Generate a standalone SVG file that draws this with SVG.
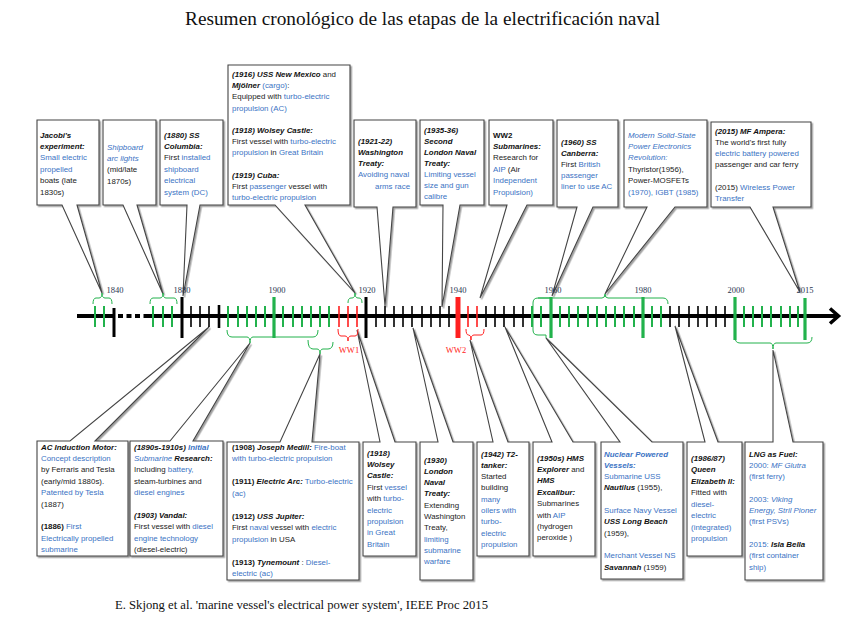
<svg xmlns="http://www.w3.org/2000/svg" width="848" height="636" viewBox="0 0 848 636">
<defs>
<filter id="sh" x="-10%" y="-10%" width="130%" height="130%">
<feDropShadow dx="1.5" dy="1.5" stdDeviation="0.7" flood-color="#888" flood-opacity="0.8"/>
</filter>
</defs>
<style>
.box{fill:#fff;stroke:#444;stroke-width:1.1;filter:url(#sh)}
.t{font-family:"Liberation Sans",Arial,sans-serif;font-size:7.9px;fill:#222}
.b{font-weight:bold;font-style:italic;fill:#111}
.y{font-weight:bold;fill:#111}
.i{font-style:italic}
.bl{fill:#3b73c4}
.gs{stroke:#22b24c;stroke-width:2;fill:none}
.ks{stroke:#000;stroke-width:1.6;fill:none}
.rs{stroke:#ff2020;stroke-width:1.6;fill:none}
.gb{stroke:#22b24c;stroke-width:3.2;fill:none}
.kb{stroke:#000;stroke-width:3;fill:none}
.br{stroke:#22b24c;stroke-width:1;fill:none}
.brr{stroke:#ff2020;stroke-width:1;fill:none}
.yr{font-family:"Liberation Serif","Times New Roman",serif;font-size:8.5px;fill:#2a3550;text-anchor:middle}
.ww{font-family:"Liberation Serif","Times New Roman",serif;font-size:8.5px;fill:#ff2020;text-anchor:middle}
</style>
<rect width="848" height="636" fill="#fff"/>
<text x="185" y="25" font-family="Liberation Serif,'Times New Roman',serif" font-size="18" fill="#111" textLength="475" lengthAdjust="spacingAndGlyphs">Resumen cronológico de las etapas de la electrificación naval</text>

<!-- top nodes -->
<g id="n-jacobi">
<path class="box" d="M37,120 H99 V205 H77 L102,293 L62,205 H37 Z"/>
<text class="t" x="40" y="137.5"><tspan class="b">Jacobi's</tspan></text>
<text class="t" x="40" y="148.9"><tspan class="b">experiment:</tspan></text>
<text class="t bl" x="40" y="160.3">Small electric</text>
<text class="t bl" x="40" y="171.7">propelled</text>
<text class="t" x="40" y="183.1">boats (late</text>
<text class="t" x="40" y="194.5">1830s)</text>
</g>
<g id="n-arc">
<path class="box" d="M103,120 H156 V205 H137 L163,294 L123,205 H103 Z"/>
<text class="t bl i" x="107" y="149.5">Shipboard</text>
<text class="t bl i" x="107" y="160.9">arc lights</text>
<text class="t" x="107" y="172.3">(mid/late</text>
<text class="t" x="107" y="183.7">1870s)</text>
</g>
<g id="n-columbia">
<path class="box" d="M160,120 H223 V205 H200 L183,296 L187,205 H160 Z"/>
<text class="t" x="164" y="137.5"><tspan class="b">(1880) SS</tspan></text>
<text class="t" x="164" y="148.9"><tspan class="b">Columbia:</tspan></text>
<text class="t" x="164" y="160.3">First <tspan class="bl">installed</tspan></text>
<text class="t bl" x="164" y="171.7">shipboard</text>
<text class="t bl" x="164" y="183.1">electrical</text>
<text class="t bl" x="164" y="194.5">system (DC)</text>
</g>
<g id="n-newmexico">
<path class="box" d="M228,65 H350 V205 H305 L355,293 L275,205 H228 Z"/>
<text class="t" x="232" y="77"><tspan class="b">(1916) USS New Mexico</tspan> and</text>
<text class="t" x="232" y="88.2"><tspan class="b">Mjölner</tspan><tspan class="bl"> (cargo)</tspan>:</text>
<text class="t" x="232" y="99.4">Equipped with <tspan class="bl">turbo-electric</tspan></text>
<text class="t bl" x="232" y="110.6">propulsion (AC)</text>
<text class="t" x="232" y="133"><tspan class="b">(1918) Wolsey Castle:</tspan></text>
<text class="t" x="232" y="144.2">First  vessel with <tspan class="bl">turbo-electric</tspan></text>
<text class="t" x="232" y="155.4"><tspan class="bl">propulsion</tspan> in <tspan class="bl">Great Britain</tspan></text>
<text class="t" x="232" y="177.8"><tspan class="b">(1919) Cuba:</tspan></text>
<text class="t" x="232" y="189">First <tspan class="bl">passenger</tspan> vessel with</text>
<text class="t bl" x="232" y="200.2">turbo-electric propulsion</text>
</g>
<g id="n-washington">
<path class="box" d="M354,120 H416 V207 H393 L385,306 L377,207 H354 Z"/>
<text class="t" x="358" y="143.5"><tspan class="b">(1921-22)</tspan></text>
<text class="t" x="358" y="154.8"><tspan class="b">Washington</tspan></text>
<text class="t" x="358" y="166.1"><tspan class="b">Treaty:</tspan></text>
<text class="t bl" x="358" y="177.4">Avoiding naval</text>
<text class="t bl" x="375" y="188.7">arms race</text>
</g>
<g id="n-london2">
<path class="box" d="M420,120 H484 V205 H460 L442,307 L443,205 H420 Z"/>
<text class="t" x="424" y="132.5"><tspan class="b">(1935-36)</tspan></text>
<text class="t" x="424" y="143.5"><tspan class="b">Second</tspan></text>
<text class="t" x="424" y="154.5"><tspan class="b">London Naval</tspan></text>
<text class="t" x="424" y="165.5"><tspan class="b">Treaty:</tspan></text>
<text class="t bl" x="424" y="176.5">Limiting vessel</text>
<text class="t bl" x="424" y="187.5">size and gun</text>
<text class="t bl" x="424" y="198.5">calibre</text>
</g>
<g id="n-ww2sub">
<path class="box" d="M489,120 H553 V205 H527 L480,298 L507,205 H489 Z"/>
<text class="t" x="493" y="137.5"><tspan class="y">WW2</tspan></text>
<text class="t" x="493" y="148.9"><tspan class="b">Submarines:</tspan></text>
<text class="t" x="493" y="160.3">Research for</text>
<text class="t" x="493" y="171.7"><tspan class="bl">AIP</tspan> (Air</text>
<text class="t bl" x="493" y="183.1">Independent</text>
<text class="t bl" x="493" y="194.5">Propulsion)</text>
</g>
<g id="n-canberra">
<path class="box" d="M557,120 H618 V207 H593 L552,296 L577,207 H557 Z"/>
<text class="t" x="561" y="144.5"><tspan class="b">(1960) SS</tspan></text>
<text class="t" x="561" y="155.7"><tspan class="b">Canberra:</tspan></text>
<text class="t" x="561" y="166.9">First <tspan class="bl">British</tspan></text>
<text class="t bl" x="561" y="178.1">passenger</text>
<text class="t bl" x="561" y="189.3">liner to use AC</text>
</g>
<g id="n-solidstate">
<path class="box" d="M624,120 H707 V207 H675 L605,294 L647,207 H624 Z"/>
<text class="t bl i" x="628" y="137.5">Modern Solid-State</text>
<text class="t bl i" x="628" y="148.9">Power Electronics</text>
<text class="t bl i" x="628" y="160.3">Revolution:</text>
<text class="t" x="628" y="171.7">Thyristor(1956),</text>
<text class="t" x="628" y="183.1">Power-MOSFETs</text>
<text class="t bl" x="628" y="194.5">(1970), IGBT (1985)</text>
</g>
<g id="n-ampera">
<path class="box" d="M711,122 H811 V207 H773 L800,292 L750,207 H711 Z"/>
<text class="t" x="715" y="133.5"><tspan class="b">(2015) MF Ampera:</tspan></text>
<text class="t" x="715" y="144.7">The world's first fully</text>
<text class="t bl" x="715" y="155.9">electric battery powered</text>
<text class="t" x="715" y="167.1">passenger and car ferry</text>
<text class="t" x="715" y="189.5">(2015) <tspan class="bl">Wireless Power</tspan></text>
<text class="t bl" x="715" y="200.7">Transfer</text>
</g>

<!-- bottom nodes -->
<g id="n-acmotor">
<path class="box" d="M37,441 H70 L209,327 L95,441 H128 V556 H37 Z"/>
<text class="t" x="41" y="449.5"><tspan class="b">AC Induction Motor:</tspan></text>
<text class="t bl" x="41" y="460.9">Concept description</text>
<text class="t" x="41" y="472.3">by Ferraris and Tesla</text>
<text class="t" x="41" y="483.7">(early/mid 1880s).</text>
<text class="t bl" x="41" y="495.1">Patented by Tesla</text>
<text class="t" x="41" y="506.5">(1887)</text>
<text class="t" x="41" y="529.3"><tspan class="y">(1886)</tspan> <tspan class="bl">First</tspan></text>
<text class="t bl" x="41" y="540.7">Electrically propelled</text>
<text class="t bl" x="41" y="552.1">submarine</text>
</g>
<g id="n-subresearch">
<path class="box" d="M130,441 H170 L250,343 L193,441 H223 V556 H130 Z"/>
<text class="t" x="134" y="449.5"><tspan class="b">(1890s-1910s) </tspan><tspan class="b bl">Initial</tspan></text>
<text class="t" x="134" y="460.9"><tspan class="i bl">Submarine</tspan><tspan class="b"> Research:</tspan></text>
<text class="t" x="134" y="472.3">Including <tspan class="bl">battery,</tspan></text>
<text class="t" x="134" y="483.7">steam-turbines and</text>
<text class="t bl" x="134" y="495.1">diesel engines</text>
<text class="t" x="134" y="518"><tspan class="b">(1903) Vandal:</tspan></text>
<text class="t" x="134" y="529.3">First vessel with <tspan class="bl">diesel</tspan></text>
<text class="t bl" x="134" y="540.7">engine technology</text>
<text class="t" x="134" y="552.1">(diesel-electric)</text>
</g>
<g id="n-medill">
<path class="box" d="M227,442 H280 L320,354 L312,442 H359 V580 H227 Z"/>
<text class="t" x="232" y="449.5"><tspan class="y">(1908) </tspan><tspan class="b">Joseph Medill:</tspan><tspan class="bl"> Fire-boat</tspan></text>
<text class="t bl" x="232" y="461">with turbo-electric propulsion</text>
<text class="t" x="232" y="484"><tspan class="y">(1911) </tspan><tspan class="b">Electric Arc:</tspan><tspan class="bl"> Turbo-electric</tspan></text>
<text class="t bl" x="232" y="495.5">(ac)</text>
<text class="t" x="232" y="518.5"><tspan class="y">(1912) </tspan><tspan class="b">USS Jupiter:</tspan></text>
<text class="t" x="232" y="530">First <tspan class="bl">naval</tspan> vessel with <tspan class="bl">electric</tspan></text>
<text class="t" x="232" y="541.5"><tspan class="bl">propulsion</tspan> in USA</text>
<text class="t" x="232" y="564.5"><tspan class="y">(1913) </tspan><tspan class="b">Tynemount</tspan> : <tspan class="bl">Diesel-</tspan></text>
<text class="t bl" x="232" y="576">electric (ac)</text>
</g>
<g id="n-wolsey">
<path class="box" d="M363,442 H380 L357,330 L395,442 H416 V556 H363 Z"/>
<text class="t" x="367" y="455.5"><tspan class="b">(1918)</tspan></text>
<text class="t" x="367" y="466.9"><tspan class="b">Wolsey</tspan></text>
<text class="t" x="367" y="478.3"><tspan class="b">Castle:</tspan></text>
<text class="t" x="367" y="489.7">First  <tspan class="bl">vessel</tspan></text>
<text class="t" x="367" y="501.1">with <tspan class="bl">turbo-</tspan></text>
<text class="t bl" x="367" y="512.5">electric</text>
<text class="t bl" x="367" y="523.9">propulsion</text>
<text class="t bl" x="367" y="535.3">in Great</text>
<text class="t bl" x="367" y="546.7">Britain</text>
</g>
<g id="n-london1">
<path class="box" d="M420,442 H438 L413,328 L453,442 H473 V580 H420 Z"/>
<text class="t" x="424" y="462.5"><tspan class="b">(1930)</tspan></text>
<text class="t" x="424" y="473.8"><tspan class="b">London</tspan></text>
<text class="t" x="424" y="485.1"><tspan class="b">Naval</tspan></text>
<text class="t" x="424" y="496.4"><tspan class="b">Treaty:</tspan></text>
<text class="t" x="424" y="507.7">Extending</text>
<text class="t" x="424" y="519">Washington</text>
<text class="t" x="424" y="530.3">Treaty,</text>
<text class="t bl" x="424" y="541.6">limiting</text>
<text class="t bl" x="424" y="552.9">submarine</text>
<text class="t bl" x="424" y="564.2">warfare</text>
</g>
<g id="n-t2tanker">
<path class="box" d="M477,442 H493 L470,340 L508,442 H529 V556 H477 Z"/>
<text class="t" x="481" y="456.5"><tspan class="b">(1942) T2-</tspan></text>
<text class="t" x="481" y="467.8"><tspan class="b">tanker:</tspan></text>
<text class="t" x="481" y="479.1">Started</text>
<text class="t" x="481" y="490.4">building</text>
<text class="t bl" x="481" y="501.7">many</text>
<text class="t bl" x="481" y="513">oilers with</text>
<text class="t bl" x="481" y="524.3">turbo-</text>
<text class="t bl" x="481" y="535.6">electric</text>
<text class="t bl" x="481" y="546.9">propulsion</text>
</g>
<g id="n-explorer">
<path class="box" d="M533,442 H552 L505,327 L573,442 H595 V556 H533 Z"/>
<text class="t" x="537" y="460.5"><tspan class="b">(1950s) HMS</tspan></text>
<text class="t" x="537" y="471.9"><tspan class="b">Explorer</tspan> and</text>
<text class="t" x="537" y="483.3"><tspan class="b">HMS</tspan></text>
<text class="t" x="537" y="494.7"><tspan class="b">Excalibur:</tspan></text>
<text class="t" x="537" y="506.1">Submarines</text>
<text class="t" x="537" y="517.5">with <tspan class="bl">AIP</tspan></text>
<text class="t" x="537" y="528.9">(hydrogen</text>
<text class="t" x="537" y="540.3">peroxide )</text>
</g>
<g id="n-nuclear">
<path class="box" d="M601,442 H620 L546,338 L652,442 H683 V579 H601 Z"/>
<text class="t" x="604" y="456.5"><tspan class="b bl">Nuclear Powered</tspan></text>
<text class="t" x="604" y="467.8"><tspan class="b bl">Vessels:</tspan></text>
<text class="t bl" x="604" y="479.1">Submarine USS</text>
<text class="t" x="604" y="490.4"><tspan class="b">Nautilus</tspan> (1955),</text>
<text class="t bl" x="604" y="513">Surface Navy Vessel</text>
<text class="t" x="604" y="524.3"><tspan class="b">USS Long Beach</tspan></text>
<text class="t" x="604" y="535.6">(1959),</text>
<text class="t bl" x="604" y="558.2">Merchant Vessel NS</text>
<text class="t" x="604" y="569.5"><tspan class="b">Savannah</tspan> (1959)</text>
</g>
<g id="n-qe2">
<path class="box" d="M687,442 H705 L675,326 L718,442 H742 V556 H687 Z"/>
<text class="t" x="691" y="460.5"><tspan class="b">(1986/87)</tspan></text>
<text class="t" x="691" y="472"><tspan class="b">Queen</tspan></text>
<text class="t" x="691" y="483.5"><tspan class="b">Elizabeth II:</tspan></text>
<text class="t" x="691" y="495">Fitted with</text>
<text class="t bl" x="691" y="506.5">diesel-</text>
<text class="t bl" x="691" y="518">electric</text>
<text class="t bl" x="691" y="529.5">(integrated)</text>
<text class="t bl" x="691" y="541">propulsion</text>
</g>
<g id="n-lng">
<path class="box" d="M745,442 H773 L773,350 L793,442 H823 V580 H745 Z"/>
<text class="t" x="749" y="456.5"><tspan class="b">LNG as Fuel:</tspan></text>
<text class="t bl" x="749" y="467.8">2000: <tspan class="i">MF Glutra</tspan></text>
<text class="t bl" x="749" y="479.1">(first ferry)</text>
<text class="t bl" x="749" y="501.7">2003: <tspan class="i">Viking</tspan></text>
<text class="t bl i" x="749" y="513">Energy, Stril Pioner</text>
<text class="t bl" x="749" y="524.3">(first PSVs)</text>
<text class="t bl" x="749" y="546.9">2015: <tspan class="b">Isla Bella</tspan></text>
<text class="t bl" x="749" y="558.2">(first container</text>
<text class="t bl" x="749" y="569.5">ship)</text>
</g>

<!-- timeline -->
<g id="timeline">
<path d="M77,316 H114" stroke="#000" stroke-width="4"/>
<path d="M118,316 H146" stroke="#000" stroke-width="4" stroke-dasharray="5,3.5"/>
<path d="M146,316 H838" stroke="#000" stroke-width="4"/>
<polyline points="830,308.5 838.5,316 830,323.5" fill="none" stroke="#000" stroke-width="3.5"/>
<path class="gs" d="M95 306V327M104 306V327M153 306V327M163 306V327M172 306V327M228 306V327M238 306V327M247 306V327M256 306V327M265 306V327M283 306V327M293 306V327M302 306V327M311 306V327M320 306V327M329 306V327M532 306V327M541 306V327M560 306V327M569 306V327M578 306V327M588 306V327M597 306V327M606 306V327M615 306V327M624 306V327M634 306V327M652 306V327M661 306V327M744 306V327M753 306V327M762 306V327M771 306V327M781 306V327M790 306V327M798 306V327"/>
<path class="ks" d="M191 306V327M200 306V327M209 306V327M376 306V327M385 306V327M394 306V327M403 306V327M412 306V327M422 306V327M431 306V327M440 306V327M449 306V327M486 306V327M495 306V327M504 306V327M514 306V327M523 306V327M670 306V327M679 306V327M689 306V327M698 306V327M707 306V327M716 306V327M725 306V327"/>
<path d="M219 305V328" stroke="#000" stroke-width="2.6"/>
<path class="rs" d="M339 306V327M348 306V327M357 306V327M468 306V327M477 306V327"/>
<path class="kb" d="M114 308V337M182 297V338M366 297V338"/>
<path class="gb" d="M274 297V338M551 297V338M643 297V338M735 297V340M805 298V340"/>
<path d="M458 297V338" stroke="#ff2020" stroke-width="5"/>
<text class="yr" x="115" y="293">1840</text>
<text class="yr" x="182" y="293">1880</text>
<text class="yr" x="277" y="293">1900</text>
<text class="yr" x="367" y="293">1920</text>
<text class="yr" x="458" y="293">1940</text>
<text class="yr" x="553" y="293">1960</text>
<text class="yr" x="643" y="293">1980</text>
<text class="yr" x="736" y="293">2000</text>
<text class="yr" x="805" y="293">2015</text>
<text class="ww" x="349" y="353">WW1</text>
<text class="ww" x="456" y="353">WW2</text>
</g>

<!-- braces -->
<g id="connectors">
<path class="br" d="M93,304 Q93,298 96,298 L99,298 Q102,298 102,293 Q102,298 105,298 L109,298 Q112,298 112,304"/>
<path class="br" d="M150,304 Q150,298 153,298 L160,298 Q163,298 163,293 Q163,298 166,298 L174,298 Q177,298 177,304"/>
<path class="br" d="M348,303 Q348,298 351,298 L352,298 Q355,298 355,293 Q355,298 358,298 L359,298 Q362,298 362,303"/>
<path class="br" d="M538,298 H602 Q605,298 605,294 Q605,298 608,298 L663,298 Q668,298 668,304"/>
<path class="br" d="M552,298 H538 Q533,298 533,303 V330 Q533,335 538,335 H546 L546,338"/>
<path class="br" d="M227,330 Q227,337 232,337 L247,337 Q250,337 250,343 Q250,337 253,337 L313,337 Q318,337 318,330"/>
<path class="br" d="M308,340 Q308,349 313,349 L317,349 Q320,349 320,354 Q320,349 323,349 L328,349 Q333,349 333,342"/>
<path class="brr" d="M338,329 Q338,336 341,336 L345,336 Q348,336 348,341 Q348,336 351,336 L355,336 Q358,336 358,329"/>
<path class="brr" d="M466,329 Q466,335 468.5,335 L469,335 Q471,335 471,340 Q471,335 474,335 L481,335 Q484,335 484,329"/>
<path class="br" d="M735,337 Q735,343 740,343 L770,343 Q773,343 773,349 Q773,343 776,343 L807,343 Q812,343 812,337"/>
</g>

<text x="115" y="609" font-family="Liberation Serif,'Times New Roman',serif" font-size="11.5" fill="#111" textLength="373" lengthAdjust="spacingAndGlyphs">E. Skjong  et al. 'marine vessel's electrical power system', IEEE Proc 2015</text>
</svg>
